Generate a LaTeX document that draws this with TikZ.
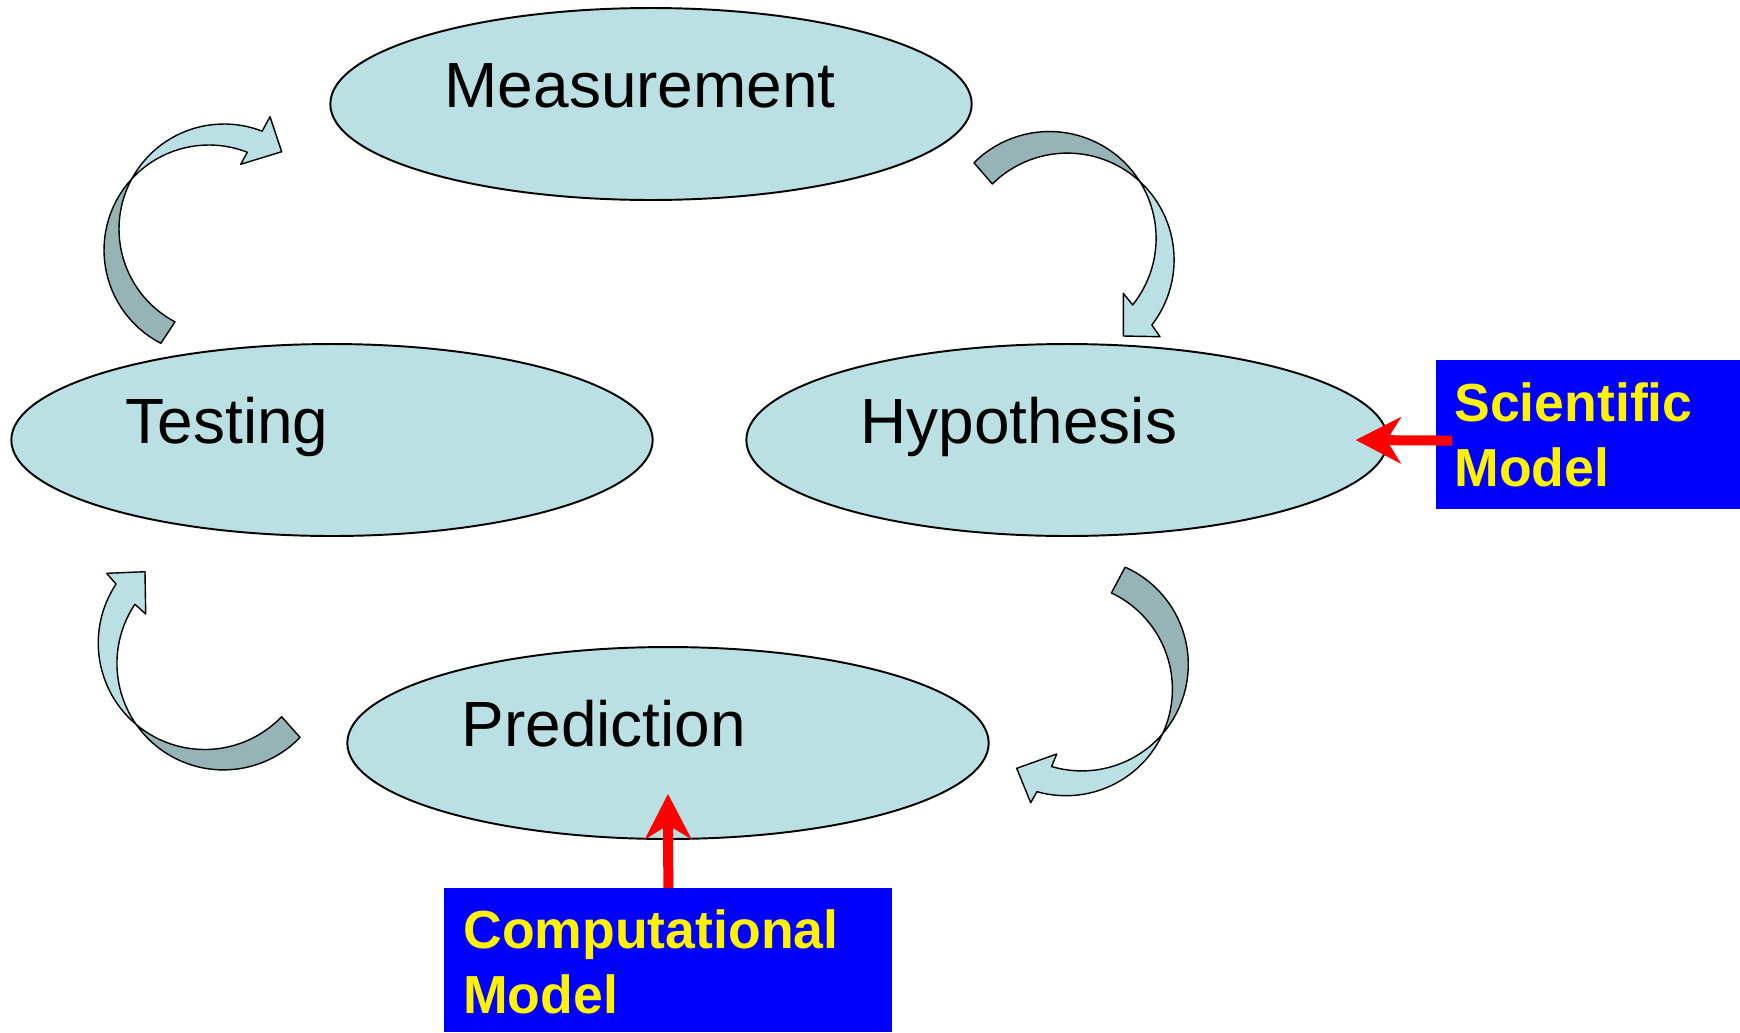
\documentclass[tikz,border=0pt]{standalone}
\usepackage{fontspec}
\setmainfont{Liberation Sans}
\usetikzlibrary{shapes.geometric, arrows.meta, positioning, calc}
\definecolor{stagefill}{RGB}{187,224,227}
\definecolor{bandshade}{RGB}{150,180,182}
\definecolor{modelblue}{RGB}{0,0,255}

\begin{document}
\begin{tikzpicture}[
  x=0.02cm, y=-0.02cm,
  stage/.style={draw, ellipse, fill=stagefill, line width=1.1pt,
                minimum width=12.83cm, minimum height=3.84cm, inner sep=0pt},
  stagetext/.style={anchor=base west, inner sep=0pt,
                    font=\fontsize{36.4}{43}\selectfont},
  modelbox/.style={fill=modelblue, inner sep=0pt, anchor=north west},
  modeltext/.style={anchor=base west, inner sep=0pt, align=left, text=yellow,
                    font=\fontsize{30.5}{36.8}\selectfont\bfseries},
  redarrow/.style={draw=red, line width=0.2cm,
                   -{Stealth[length=0.9cm, width=0.92cm, inset=0.28cm]}},
  liteband/.style={fill=stagefill, draw, line width=0.8pt, line join=round},
  darkband/.style={fill=bandshade, draw, line width=0.8pt, line join=round}
]
\useasboundingbox (0,0) rectangle (1740,1032);

\node[stage] (meas) at (651,104) {};
\node[stage] (test) at (332,440) {};
\node[stage] (hyp)  at (1067,440) {};
\node[stage] (pred) at (668,743) {};
\node[stagetext] (meas-t) at ($(meas.west)+(115,3)$) {Measurement};
\node[stagetext] (test-t) at ($(test.west)+(115,3)$) {Testing};
\node[stagetext] (hyp-t)  at ($(hyp.west)+(115,3)$)  {Hypothesis};
\node[stagetext] (pred-t) at ($(pred.west)+(115,3)$) {Prediction};

\node[modelbox, minimum width=6.08cm, minimum height=2.97cm] (sci) at (1436,360) {};
\node[modelbox, minimum width=8.96cm, minimum height=2.88cm] (comp) at (444,888) {};
\node[modeltext] (sci-t)  at ($(sci.north west)+(18,126)$)  {Scientific\\Model};
\node[modeltext] (comp-t) at ($(comp.north west)+(19,125)$) {Computational\\Model};

\draw[redarrow] ($(sci.west)+(16,6)$) -- ($(hyp.east)+(-33,0)$);
\draw[redarrow] (comp.north) -- ($(pred.south)+(0,-46)$);

% testing -> measurement
\filldraw[darkband]
  plot[domain=117.3:222.6, samples=30] ({209+105*cos(\x)},{250+105*sin(\x)})
  -- plot[domain=208.4:117.8, samples=30] ({224+105*cos(\x)},{229+105*sin(\x)}) -- cycle;
\filldraw[liteband]
  plot[domain=208.4:291.3, samples=30] ({224+105*cos(\x)},{229+105*sin(\x)})
  -- (270,116.7) -- (281.7,151.7) -- (240.7,164.3)
  -- plot[domain=291.4:222.6, samples=30] ({209+105*cos(\x)},{250+105*sin(\x)}) -- cycle;

% measurement -> hypothesis
\filldraw[darkband]
  plot[domain=225:328.1, samples=30] ({1049.4+106.7*cos(\x)},{238.2+106.7*sin(\x)})
  -- plot[domain=312.9:225.3, samples=30] ({1067.4+106.7*cos(\x)},{259.8+106.7*sin(\x)}) -- cycle;
\filldraw[liteband]
  plot[domain=312.9:397.7, samples=30] ({1067.4+106.7*cos(\x)},{259.8+106.7*sin(\x)})
  -- (1160,336.7) -- (1123.3,336) -- (1123.3,293.3)
  -- plot[domain=398.7:328.1, samples=30] ({1049.4+106.7*cos(\x)},{238.2+106.7*sin(\x)}) -- cycle;

% hypothesis -> prediction
\filldraw[darkband]
  plot[domain=294:398.3, samples=30] ({1081.8+106.5*cos(\x)},{664.4+106.5*sin(\x)})
  -- plot[domain=382.4:295.3, samples=30] ({1065.9+106.5*cos(\x)},{689.2+106.5*sin(\x)}) -- cycle;
\filldraw[liteband]
  plot[domain=22.4:105.8, samples=30] ({1065.9+106.5*cos(\x)},{689.2+106.5*sin(\x)})
  -- (1030.7,802.7) -- (1016.7,768.3) -- (1056.7,754)
  -- plot[domain=106.5:38.3, samples=30] ({1081.8+106.5*cos(\x)},{664.4+106.5*sin(\x)}) -- cycle;

% prediction -> testing
\filldraw[darkband]
  plot[domain=44:144.6, samples=30] ({223.45+106.5*cos(\x)},{663.4+106.5*sin(\x)})
  -- plot[domain=129.7:43.8, samples=30] ({204.74+106.5*cos(\x)},{643+106.5*sin(\x)}) -- cycle;
\filldraw[liteband]
  plot[domain=129.7:213.6, samples=30] ({204.74+106.5*cos(\x)},{643+106.5*sin(\x)})
  -- (106.7,573.3) -- (145,571.7) -- (145.7,614)
  -- plot[domain=213.75:144.6, samples=30] ({223.45+106.5*cos(\x)},{663.4+106.5*sin(\x)}) -- cycle;
\end{tikzpicture}
\end{document}
